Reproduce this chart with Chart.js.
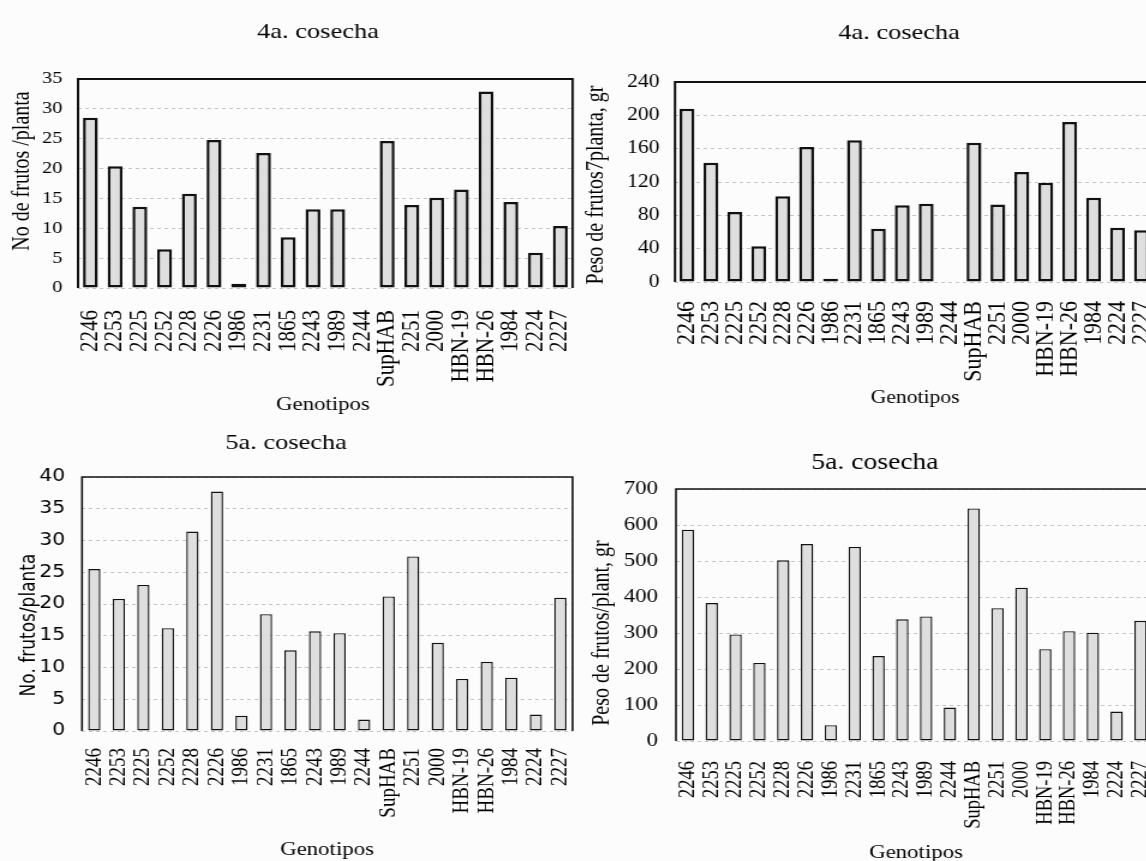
<!DOCTYPE html>
<html>
<head>
<meta charset="utf-8">
<script src="https://cdn.jsdelivr.net/npm/chart.js@4.4.1/dist/chart.umd.min.js"></script>
<style>
  html, body { margin: 0; padding: 0; background: #fcfcfc; }
  body { width: 1146px; height: 861px; overflow: hidden; position: relative; }
  .panel { position: absolute; transform-origin: 0 0; transform: scaleX(1.2); }
  canvas { display: block; }
</style>
</head>
<body>
<div class="panel" id="p1"><canvas id="c1"></canvas></div>
<div class="panel" id="p2"><canvas id="c2"></canvas></div>
<div class="panel" id="p3"><canvas id="c3"></canvas></div>
<div class="panel" id="p4"><canvas id="c4"></canvas></div>
<script>
const genotipos = ['2246', '2253', '2225', '2252', '2228', '2226', '1986', '2231', '1865', '2243',
  '1989', '2244', 'SupHAB', '2251', '2000', 'HBN-19', 'HBN-26', '1984', '2224', '2227'];

// 4a. cosecha
const frutos4a = [28.5, 20.4, 13.6, 6.5, 15.8, 24.8, 0.7, 22.6, 8.5, 13.2, 13.2, 0, 24.6, 13.9, 15.1, 16.5, 32.9, 14.4, 5.9, 10.4];
const peso4a = [208, 143, 84, 43, 103, 162, 4, 170, 64, 92, 94, 0, 167, 93, 132, 119, 192, 101, 65, 62];

// 5a. cosecha
const frutos5a = [25.5, 20.8, 23.0, 16.2, 31.4, 37.7, 2.4, 18.4, 12.7, 15.7, 15.4, 1.8, 21.2, 27.5, 13.9, 8.2, 10.9, 8.4, 2.6, 21.0];
const peso5a = [587, 383, 296, 217, 502, 547, 44, 539, 236, 338, 346, 93, 646, 369, 426, 255, 305, 301, 82, 334];

const ticksFrutos4a = [0, 5, 10, 15, 20, 25, 30, 35];
const ticksPeso4a = [0, 40, 80, 120, 160, 200, 240];
const ticksFrutos5a = [0, 5, 10, 15, 20, 25, 30, 35, 40];
const ticksPeso5a = [0, 100, 200, 300, 400, 500, 600, 700];

// the scan is a bit stretched sideways, so every panel is drawn narrow and scaled by S
const S = 1.2;
const serif = 'Liberation Serif';

function makeChart(n, spec) {
  const panel = document.getElementById('p' + n);
  const canvas = document.getElementById('c' + n);
  panel.style.left = spec.left + 'px';
  panel.style.top = spec.top + 'px';
  canvas.width = Math.round(spec.width / S);
  canvas.height = spec.height;
  const p = spec.plot;

  // titles and axis names placed where the scan has them
  const texts = {
    id: 'texts',
    afterDraw(chart) {
      const ctx = chart.ctx;
      spec.texts.forEach(t => {
        ctx.save();
        ctx.translate((t.x - spec.left) / S, t.y - spec.top);
        if (t.rot) ctx.rotate(-Math.PI / 2);
        ctx.font = t.font;
        ctx.fillStyle = '#000';
        ctx.textAlign = 'center';
        ctx.textBaseline = 'middle';
        ctx.fillText(t.text, 0, 0);
        ctx.restore();
      });
    }
  };

  // black frame round the plot area (top, left, right)
  const frame = {
    id: 'frame',
    afterDraw(chart) {
      const {ctx, chartArea: a} = chart;
      ctx.save();
      ctx.strokeStyle = '#111';
      ctx.lineWidth = spec.frame;
      ctx.beginPath();
      ctx.moveTo(a.left, a.bottom);
      ctx.lineTo(a.left, a.top);
      ctx.lineTo(a.right, a.top);
      ctx.lineTo(a.right, a.bottom);
      ctx.stroke();
      ctx.restore();
    }
  };

  return new Chart(canvas, {
    type: 'bar',
    data: {
      labels: genotipos,
      datasets: [{
        data: spec.data,
        backgroundColor: '#dedede',
        borderColor: '#111',
        borderWidth: spec.bw,
        borderSkipped: false,
        barPercentage: spec.bar,
        categoryPercentage: 1,
      }],
    },
    options: {
      responsive: false,
      animation: false,
      layout: {
        padding: {top: p.t - spec.top, right: (spec.left + spec.width - p.r) / S, bottom: 0, left: 0},
      },
      plugins: {legend: {display: false}, tooltip: {enabled: false}},
      scales: {
        x: {
          grid: {display: false},
          border: {display: false},
          ticks: {
            autoSkip: false, minRotation: 90, maxRotation: 90, padding: spec.xPad,
            color: '#000', font: {family: serif, size: spec.xFont},
          },
          afterFit: s => {
            s.height = spec.top + spec.height - p.b;
            s.paddingLeft = 0;
            s.paddingRight = 0;
          },
        },
        y: {
          min: 0,
          max: spec.yticks[spec.yticks.length - 1],
          afterBuildTicks: s => { s.ticks = spec.yticks.map(v => ({value: v})); },
          grid: {color: '#c4c4c4', lineWidth: 1, drawTicks: false},
          border: {display: false, dash: [3, 3]},
          ticks: {padding: spec.yPad, color: '#000', font: spec.yFont},
          afterFit: s => {
            s.width = (p.l - spec.left) / S;
            s.paddingTop = 0;
            s.paddingBottom = 0;
          },
        },
      },
    },
    plugins: [frame, texts],
  });
}

makeChart(1, {
  left: 0, top: 0, width: 580, height: 430,
  plot: {l: 78, t: 79, r: 573, b: 288},
  data: frutos4a, yticks: ticksFrutos4a,
  yFont: {family: serif, size: 17}, yPad: 13, xFont: 21, xPad: 14,
  bar: 0.6, bw: 2.5, frame: 2,
  texts: [
    {text: '4a. cosecha', x: 318, y: 32, font: '22px ' + serif},
    {text: 'No de frutos /planta', x: 22, y: 171, rot: true, font: '20px ' + serif},
    {text: 'Genotipos', x: 323, y: 405, font: '19px ' + serif},
  ],
});

makeChart(2, {
  left: 580, top: 0, width: 620, height: 430,
  plot: {l: 675, t: 82, r: 1153, b: 282},
  data: peso4a, yticks: ticksPeso4a,
  yFont: {family: serif, size: 18}, yPad: 13, xFont: 22, xPad: 11,
  bar: 0.62, bw: 2.5, frame: 2,
  texts: [
    {text: '4a. cosecha', x: 899, y: 33, font: '22px ' + serif},
    {text: 'Peso de frutos7planta, gr', x: 597, y: 185, rot: true, font: '20px ' + serif},
    {text: 'Genotipos', x: 915, y: 398, font: '18px ' + serif},
  ],
});

makeChart(3, {
  left: 0, top: 430, width: 580, height: 431,
  plot: {l: 82, t: 477, r: 573, b: 731},
  data: frutos5a, yticks: ticksFrutos5a,
  yFont: {family: 'DejaVu Sans', size: 17}, yPad: 14, xFont: 19, xPad: 9,
  bar: 0.5, bw: 1.4, frame: 1.6,
  texts: [
    {text: '5a. cosecha', x: 286, y: 443, font: '22px ' + serif},
    {text: 'No. frutos/planta', x: 30, y: 625, rot: true, font: '17px DejaVu Sans'},
    {text: 'Genotipos', x: 327, y: 850, font: '19px ' + serif},
  ],
});

makeChart(4, {
  left: 580, top: 430, width: 620, height: 431,
  plot: {l: 676, t: 489, r: 1152, b: 741},
  data: peso5a, yticks: ticksPeso5a,
  yFont: {family: serif, size: 19}, yPad: 15, xFont: 18.5, xPad: 12,
  bar: 0.52, bw: 1.4, frame: 1.6,
  texts: [
    {text: '5a. cosecha', x: 875, y: 463, font: '23px ' + serif},
    {text: 'Peso de frutos/plant, gr', x: 603, y: 633, rot: true, font: '20px ' + serif},
    {text: 'Genotipos', x: 916, y: 853, font: '19px ' + serif},
  ],
});
</script>
</body>
</html>
